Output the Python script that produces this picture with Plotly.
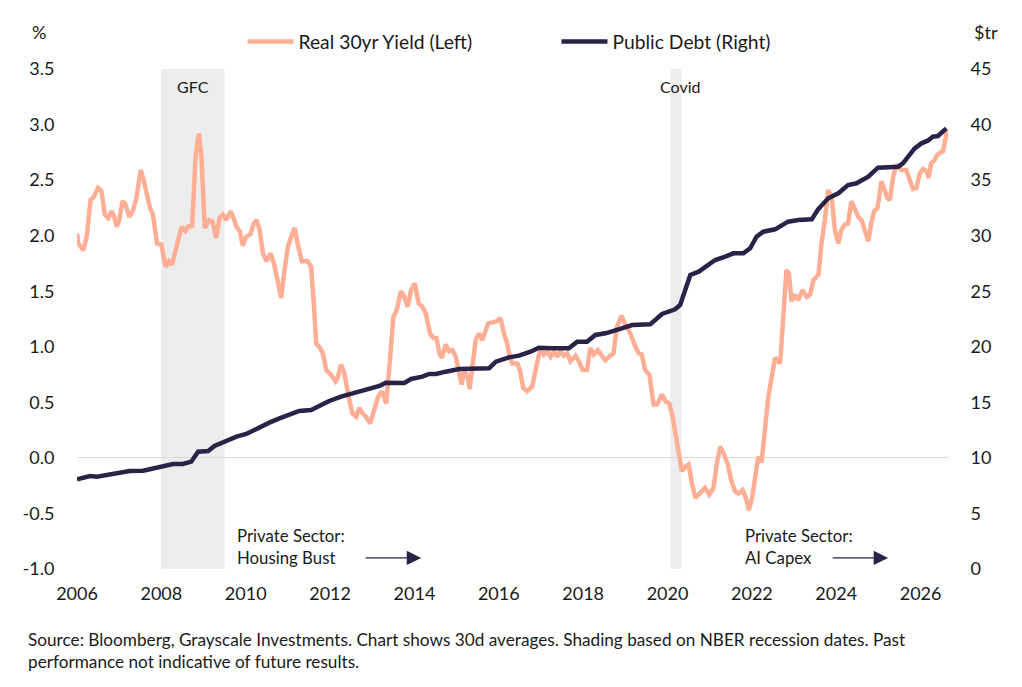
import plotly.graph_objects as go

# Real 30yr yield (%), left axis -----------------------------------------------
YLD_T = [
    2006.00, 2006.03, 2006.15, 2006.23, 2006.32, 2006.40, 2006.50, 2006.58, 2006.66, 2006.74,
    2006.82, 2006.88, 2006.94, 2007.00, 2007.08, 2007.14, 2007.24, 2007.33, 2007.41, 2007.51,
    2007.58, 2007.66, 2007.73, 2007.80, 2007.90, 2008.00, 2008.10, 2008.18, 2008.25, 2008.36,
    2008.48, 2008.57, 2008.63, 2008.73, 2008.81, 2008.89, 2008.95, 2009.03, 2009.13, 2009.21,
    2009.30, 2009.38, 2009.46, 2009.54, 2009.64, 2009.70, 2009.78, 2009.86, 2009.93, 2010.01,
    2010.11, 2010.19, 2010.26, 2010.33, 2010.41, 2010.49, 2010.59, 2010.67, 2010.76, 2010.84,
    2010.92, 2011.00, 2011.08, 2011.16, 2011.23, 2011.33, 2011.47, 2011.55, 2011.61, 2011.67,
    2011.76, 2011.83, 2011.91, 2012.02, 2012.13, 2012.18, 2012.26, 2012.34, 2012.44, 2012.53,
    2012.62, 2012.69, 2012.77, 2012.85, 2012.95, 2013.05, 2013.14, 2013.23, 2013.33, 2013.42,
    2013.50, 2013.58, 2013.68, 2013.76, 2013.84, 2013.92, 2014.01, 2014.10, 2014.19, 2014.27,
    2014.37, 2014.45, 2014.52, 2014.60, 2014.65, 2014.74, 2014.82, 2014.90, 2014.98, 2015.06,
    2015.12, 2015.18, 2015.26, 2015.31, 2015.37, 2015.45, 2015.53, 2015.61, 2015.69, 2015.75,
    2015.85, 2015.96, 2016.04, 2016.12, 2016.20, 2016.26, 2016.32, 2016.44, 2016.50, 2016.58,
    2016.67, 2016.79, 2016.89, 2016.99, 2017.07, 2017.15, 2017.23, 2017.31, 2017.38, 2017.46,
    2017.54, 2017.62, 2017.70, 2017.82, 2017.90, 2017.99, 2018.09, 2018.17, 2018.25, 2018.35,
    2018.42, 2018.53, 2018.61, 2018.72, 2018.80, 2018.91, 2019.00, 2019.12, 2019.24, 2019.32,
    2019.39, 2019.47, 2019.57, 2019.67, 2019.75, 2019.87, 2019.95, 2020.04, 2020.12, 2020.18,
    2020.26, 2020.34, 2020.42, 2020.50, 2020.58, 2020.66, 2020.74, 2020.81, 2020.89, 2020.99,
    2021.09, 2021.17, 2021.25, 2021.33, 2021.43, 2021.51, 2021.60, 2021.68, 2021.78, 2021.85,
    2021.93, 2022.01, 2022.09, 2022.15, 2022.23, 2022.31, 2022.39, 2022.47, 2022.55, 2022.67,
    2022.75, 2022.82, 2022.88, 2022.94, 2023.02, 2023.10, 2023.20, 2023.30, 2023.38, 2023.46,
    2023.58, 2023.65, 2023.73, 2023.81, 2023.89, 2023.97, 2024.05, 2024.12, 2024.20, 2024.28,
    2024.36, 2024.44, 2024.52, 2024.60, 2024.68, 2024.76, 2024.83, 2024.90, 2024.98, 2025.07,
    2025.15, 2025.21, 2025.27, 2025.35, 2025.43, 2025.54, 2025.66, 2025.74, 2025.82, 2025.90,
    2025.98, 2026.06, 2026.14, 2026.19, 2026.25, 2026.33, 2026.40, 2026.48, 2026.53, 2026.57,
    2026.63,
]
YLD_V = [
    2.02, 1.93, 1.87, 1.99, 2.32, 2.35, 2.43, 2.40, 2.19, 2.16,
    2.22, 2.17, 2.08, 2.14, 2.31, 2.29, 2.17, 2.23, 2.34, 2.59,
    2.50, 2.37, 2.25, 2.19, 1.93, 1.92, 1.72, 1.77, 1.74, 1.90,
    2.08, 2.04, 2.08, 2.09, 2.71, 2.92, 2.71, 2.07, 2.14, 2.13,
    1.98, 2.16, 2.19, 2.14, 2.22, 2.17, 2.08, 2.04, 1.91, 1.99,
    2.01, 2.11, 2.14, 2.05, 1.84, 1.77, 1.84, 1.75, 1.57, 1.44,
    1.69, 1.90, 1.99, 2.07, 1.93, 1.77, 1.77, 1.72, 1.42, 1.03,
    0.99, 0.94, 0.79, 0.75, 0.69, 0.72, 0.84, 0.76, 0.55, 0.40,
    0.37, 0.45, 0.40, 0.37, 0.31, 0.43, 0.55, 0.60, 0.49, 0.88,
    1.27, 1.33, 1.50, 1.45, 1.36, 1.51, 1.57, 1.39, 1.36, 1.30,
    1.12, 1.08, 1.08, 0.93, 0.90, 1.02, 0.96, 0.97, 0.91, 0.76,
    0.66, 0.79, 0.73, 0.62, 0.85, 1.06, 1.12, 1.06, 1.15, 1.21,
    1.22, 1.23, 1.26, 1.12, 1.03, 0.91, 0.85, 0.85, 0.79, 0.63,
    0.60, 0.64, 0.82, 0.99, 0.93, 0.96, 0.91, 0.96, 0.91, 0.96,
    0.92, 0.94, 0.87, 0.92, 0.87, 0.79, 0.79, 0.99, 0.93, 0.97,
    0.93, 0.88, 0.91, 0.94, 1.18, 1.28, 1.20, 1.12, 1.00, 0.94,
    0.93, 0.79, 0.75, 0.48, 0.48, 0.57, 0.51, 0.49, 0.37, 0.22,
    0.07, -0.12, -0.08, -0.06, -0.23, -0.36, -0.33, -0.30, -0.27, -0.33,
    -0.27, -0.05, 0.10, 0.04, -0.06, -0.20, -0.30, -0.32, -0.29, -0.35,
    -0.47, -0.35, -0.11, 0.01, -0.04, 0.25, 0.55, 0.73, 0.90, 0.85,
    1.27, 1.69, 1.66, 1.41, 1.47, 1.42, 1.51, 1.45, 1.47, 1.60,
    1.65, 1.93, 2.14, 2.41, 2.35, 2.05, 1.93, 2.05, 2.10, 2.11,
    2.31, 2.23, 2.17, 2.14, 2.04, 1.95, 2.11, 2.22, 2.25, 2.49,
    2.41, 2.34, 2.32, 2.53, 2.64, 2.59, 2.59, 2.50, 2.42, 2.43,
    2.56, 2.60, 2.58, 2.52, 2.65, 2.68, 2.73, 2.75, 2.76, 2.83,
    2.95,
]

# Public debt ($tr), right axis ------------------------------------------------
DEBT_T = [
    2006.00, 2006.31, 2006.47, 2006.78, 2007.25, 2007.57, 2007.96, 2008.28, 2008.51, 2008.71,
    2008.87, 2009.11, 2009.26, 2009.54, 2009.78, 2010.01, 2010.21, 2010.37, 2010.56, 2010.80,
    2011.04, 2011.27, 2011.55, 2011.75, 2011.98, 2012.26, 2012.53, 2012.85, 2013.17, 2013.32,
    2013.76, 2013.92, 2014.19, 2014.35, 2014.51, 2014.74, 2015.06, 2015.77, 2015.93, 2016.24,
    2016.48, 2016.75, 2016.95, 2017.27, 2017.66, 2017.86, 2018.09, 2018.29, 2018.53, 2018.84,
    2019.16, 2019.59, 2019.87, 2020.18, 2020.30, 2020.42, 2020.54, 2020.74, 2020.89, 2021.13,
    2021.37, 2021.56, 2021.80, 2021.96, 2022.11, 2022.27, 2022.55, 2022.86, 2023.10, 2023.42,
    2023.57, 2023.81, 2024.05, 2024.28, 2024.48, 2024.76, 2024.99, 2025.47, 2025.58, 2025.86,
    2026.02, 2026.17, 2026.29, 2026.41, 2026.61,
]
DEBT_V = [
    8.07, 8.37, 8.31, 8.55, 8.82, 8.85, 9.15, 9.45, 9.45, 9.66,
    10.56, 10.62, 11.07, 11.52, 11.91, 12.15, 12.51, 12.90, 13.17, 13.56,
    13.92, 14.22, 14.31, 14.73, 15.12, 15.51, 15.81, 16.17, 16.47, 16.77,
    16.75, 17.10, 17.31, 17.55, 17.55, 17.76, 18.00, 18.06, 18.66, 19.05,
    19.20, 19.56, 19.92, 19.86, 19.86, 20.46, 20.46, 21.06, 21.21, 21.57,
    21.96, 22.02, 22.95, 23.37, 23.76, 25.11, 26.46, 26.76, 27.21, 27.81,
    28.11, 28.41, 28.41, 28.86, 29.91, 30.36, 30.57, 31.26, 31.41, 31.47,
    32.37, 33.36, 33.81, 34.56, 34.71, 35.31, 36.12, 36.21, 36.51, 37.86,
    38.31, 38.55, 38.91, 38.97, 39.66,
]

# Recession shading (NBER) -----------------------------------------------------
RECESSIONS = [(2007.99, 2009.50, 'GFC', 2008.74), (2020.07, 2020.33, 'Covid', 2020.29)]
X_TICKS = list(range(2006, 2027, 2))
Y_TICKS = [-1.0, -0.5, 0.0, 0.5, 1.0, 1.5, 2.0, 2.5, 3.0, 3.5]
Y_LABELS = ['-1.0', '-0.5', '0.0', '0.5', '1.0', '1.5', '2.0', '2.5', '3.0', '3.5']

FONT = 'Lato, Open Sans, sans-serif'
ORANGE = '#FDAE94'
NAVY = '#2B2248'
TXT = '#1a1a1a'

fig = go.Figure()
fig.add_trace(go.Scatter(
    x=YLD_T, y=YLD_V, name='Real 30yr Yield (Left)', mode='lines',
    line=dict(color=ORANGE, width=4.5), yaxis='y'
))
fig.add_trace(go.Scatter(
    x=DEBT_T, y=DEBT_V, name='Public Debt (Right)', mode='lines',
    line=dict(color=NAVY, width=4.5), yaxis='y2'
))

for (x0, x1, lbl, xl) in RECESSIONS:
    fig.add_shape(type='rect', xref='x', yref='y', x0=x0, x1=x1, y0=-1.0, y1=3.5,
                  fillcolor='#EDEDED', line=dict(width=0), layer='below')
    fig.add_annotation(x=xl, y=3.34, xref='x', yref='y', text=lbl, showarrow=False,
                       font=dict(size=16, color=TXT))

# Private sector notes + arrows -----------------------------------------------
for (xt, txt, xa0, xa1) in [(2009.74, 'Private Sector:<br>Housing Bust', 2012.81, 2014.16),
                            (2021.80, 'Private Sector:<br>AI Capex', 2023.88, 2025.23)]:
    fig.add_annotation(x=xt, y=-0.80, xref='x', yref='y', text=txt, showarrow=False,
                       xanchor='left', align='left', font=dict(size=16.8, color=TXT))
    fig.add_annotation(x=xa1, y=-0.90, ax=xa0, ay=-0.90, xref='x', yref='y',
                       axref='x', ayref='y', text='', showarrow=True,
                       arrowhead=2, arrowsize=2.4, arrowwidth=1.2, arrowcolor=NAVY)

# Axis units + footer ----------------------------------------------------------
fig.add_annotation(x=-0.044, y=1.075, xref='paper', yref='paper', text='%', showarrow=False,
                   xanchor='center', yanchor='middle', font=dict(size=18, color=TXT))
fig.add_annotation(x=1.0436, y=1.075, xref='paper', yref='paper', text='$tr', showarrow=False,
                   xanchor='center', yanchor='middle', font=dict(size=18, color=TXT))
fig.add_annotation(
    x=-0.0586, y=-0.162, xref='paper', yref='paper', xanchor='left', yanchor='middle',
    align='left', showarrow=False, font=dict(size=17.2, color=TXT),
    text='Source: Bloomberg, Grayscale Investments. Chart shows 30d averages. Shading based on NBER recession dates. Past'
         '<br>performance not indicative of future results.'
)

# page body keeps an 8px margin, so the figure is 16px smaller and margins shift
fig.update_layout(
    width=1006, height=671,
    margin=dict(l=69, r=66, t=61, b=110, autoexpand=False),
    paper_bgcolor='white', plot_bgcolor='white',
    font=dict(family=FONT, size=18, color=TXT),
    showlegend=True,
    legend=dict(orientation='h', x=0.190, y=1.054, xanchor='left', yanchor='middle',
                font=dict(size=19.3, color=TXT), itemwidth=46,
                entrywidth=253, entrywidthmode='pixels', bgcolor='rgba(0,0,0,0)'),
    xaxis=dict(range=[2006, 2026.65], tickvals=X_TICKS, showgrid=False, zeroline=False,
               showline=False, ticks='outside', ticklen=8, tickcolor='rgba(0,0,0,0)',
               automargin=False),
    yaxis=dict(range=[-1.0, 3.5], tickvals=Y_TICKS, ticktext=Y_LABELS, showgrid=False,
               zeroline=True, zerolinecolor='#D9D9D9', zerolinewidth=1, showline=False,
               ticks='outside', ticklen=18, tickcolor='rgba(0,0,0,0)', automargin=False),
    yaxis2=dict(range=[0, 45], dtick=5, overlaying='y', side='right', showgrid=False,
                zeroline=False, showline=False, ticks='outside', ticklen=18,
                tickcolor='rgba(0,0,0,0)', automargin=False),
)

fig.write_html('out.html')
